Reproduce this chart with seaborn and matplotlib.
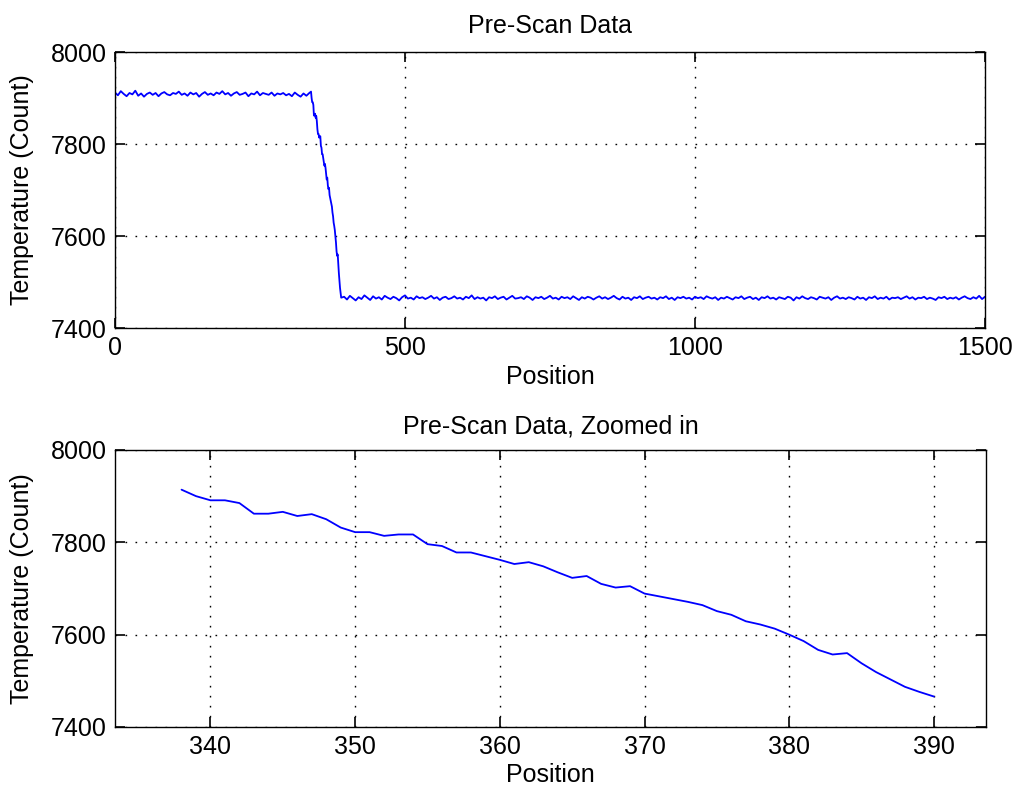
import numpy as np
import pandas as pd
import matplotlib
matplotlib.use('Agg')
import matplotlib.pyplot as plt
import seaborn as sns

# Readings before the edge (positions 0..335, every 5)
high_temps = [
    7912, 7906, 7915, 7909, 7904, 7911, 7908, 7916, 7905, 7910,
    7903, 7909, 7912, 7907, 7911, 7904, 7910, 7913, 7908, 7906,
    7911, 7909, 7914, 7907, 7910, 7905, 7912, 7908, 7911, 7903,
    7909, 7913, 7907, 7910, 7906, 7912, 7909, 7915, 7908, 7911,
    7905, 7910, 7913, 7907, 7909, 7912, 7904, 7910, 7908, 7914,
    7906, 7911, 7909, 7907, 7912, 7905, 7910, 7908, 7911, 7906,
    7909, 7904, 7912, 7907, 7903, 7910, 7905, 7911,
]
high_pos = np.arange(0, 340, 5)

# Readings across the edge (positions 338..390, every 1)
edge_temps = [
    7914, 7900, 7891, 7891, 7885, 7862, 7862, 7866, 7857, 7861,
    7850, 7832, 7822, 7822, 7814, 7817, 7817, 7796, 7792, 7778,
    7778, 7770, 7762, 7753, 7757, 7748, 7735, 7723, 7727, 7710,
    7702, 7705, 7689, 7683, 7677, 7671, 7664, 7651, 7643, 7629,
    7622, 7613, 7600, 7586, 7567, 7557, 7560, 7538, 7519, 7503,
    7487, 7476, 7466,
]
edge_pos = np.arange(338, 391)

# Readings after the edge (positions 395..1500, every 5)
low_temps = [
    7468, 7462, 7470, 7465, 7460, 7467, 7463, 7471, 7466, 7461,
    7469, 7464, 7467, 7462, 7470, 7466, 7463, 7468, 7465, 7460,
    7467, 7471, 7464, 7466, 7462, 7469, 7465, 7467, 7463, 7466,
    7470, 7464, 7467, 7461, 7466, 7468, 7463, 7465, 7469, 7464,
    7466, 7462, 7468, 7465, 7471, 7463, 7467, 7464, 7466, 7460,
    7467, 7465, 7469, 7463, 7466, 7468, 7462, 7466, 7470, 7464,
    7465, 7467, 7463, 7469, 7466, 7461, 7467, 7465, 7468, 7463,
    7466, 7470, 7464, 7466, 7462, 7468, 7465, 7467, 7463, 7469,
    7465, 7461, 7467, 7464, 7468, 7466, 7462, 7466, 7469, 7464,
    7467, 7463, 7466, 7470, 7465, 7462, 7468, 7464, 7466, 7461,
    7467, 7465, 7469, 7463, 7466, 7468, 7464, 7466, 7462, 7467,
    7465, 7469, 7463, 7466, 7461, 7467, 7465, 7468, 7464, 7466,
    7462, 7468, 7465, 7467, 7463, 7469, 7466, 7464, 7467, 7461,
    7466, 7464, 7468, 7465, 7462, 7467, 7465, 7469, 7463, 7466,
    7468, 7463, 7466, 7461, 7467, 7465, 7469, 7464, 7466, 7462,
    7467, 7465, 7463, 7468, 7466, 7460, 7467, 7464, 7469, 7465,
    7463, 7467, 7465, 7462, 7468, 7466, 7464, 7467, 7461, 7466,
    7469, 7464, 7466, 7463, 7467, 7465, 7462, 7468, 7464, 7466,
    7461, 7467, 7465, 7469, 7463, 7466, 7464, 7468, 7462, 7466,
    7465, 7467, 7463, 7466, 7469, 7464, 7467, 7462, 7466, 7465,
    7468, 7463, 7466, 7464, 7461, 7467, 7465, 7468, 7463, 7466,
    7464, 7467, 7462, 7466, 7469, 7465, 7463, 7467, 7464, 7470,
    7463, 7468,
]
low_pos = np.arange(395, 1505, 5)

full = pd.DataFrame({
    'Position': np.concatenate([high_pos, edge_pos, low_pos]),
    'Temp': high_temps + edge_temps + low_temps,
})
zoom = pd.DataFrame({'Position': edge_pos, 'Temp': edge_temps})

sns.set_style('ticks')
plt.rcParams['font.family'] = ['Liberation Sans', 'DejaVu Sans']
plt.rcParams['lines.scale_dashes'] = False
plt.rcParams['text.color'] = 'black'
plt.rcParams['axes.labelcolor'] = 'black'

fig = plt.figure(figsize=(10.15, 7.96), dpi=100)
ax1 = fig.add_axes([0.1133, 0.5879, 0.8571, 0.3467])
ax2 = fig.add_axes([0.1133, 0.0867, 0.8581, 0.3480])

sns.lineplot(data=full, x='Position', y='Temp', ax=ax1, color='#0000ff',
             linewidth=1.3, estimator=None, sort=False)
sns.lineplot(data=zoom, x='Position', y='Temp', ax=ax2, color='#0000ff',
             linewidth=1.3, estimator=None, sort=False)

ax1.set_xlim(0, 1500)
ax1.set_xticks([0, 500, 1000, 1500])
ax1.set_title('Pre-Scan Data', fontsize=18, pad=14, color='black')

ax2.set_xlim(333.4, 393.6)
ax2.set_xticks([340, 350, 360, 370, 380, 390])
ax2.set_title('Pre-Scan Data, Zoomed in', fontsize=18, pad=12, color='black')

for ax in (ax1, ax2):
    ax.set_ylim(7400, 8000)
    ax.set_yticks([7400, 7600, 7800, 8000])
    ax.set_xlabel('Position', fontsize=18, labelpad=3, color='black')
    ax.set_ylabel('Temperature (Count)', fontsize=18, labelpad=12, color='black')
    ax.grid(True, color='black', linestyle=(0, (1.2, 6)), linewidth=1.0)
    ax.tick_params(direction='in', length=7, width=1.2, labelsize=18,
                   top=True, right=True, bottom=True, left=True,
                   pad=6, colors='black', labelcolor='black')
    for s in ax.spines.values():
        s.set_visible(True)
        s.set_color('black')
        s.set_linewidth(1.0)

fig.savefig('out.png', dpi=100, facecolor='white')
